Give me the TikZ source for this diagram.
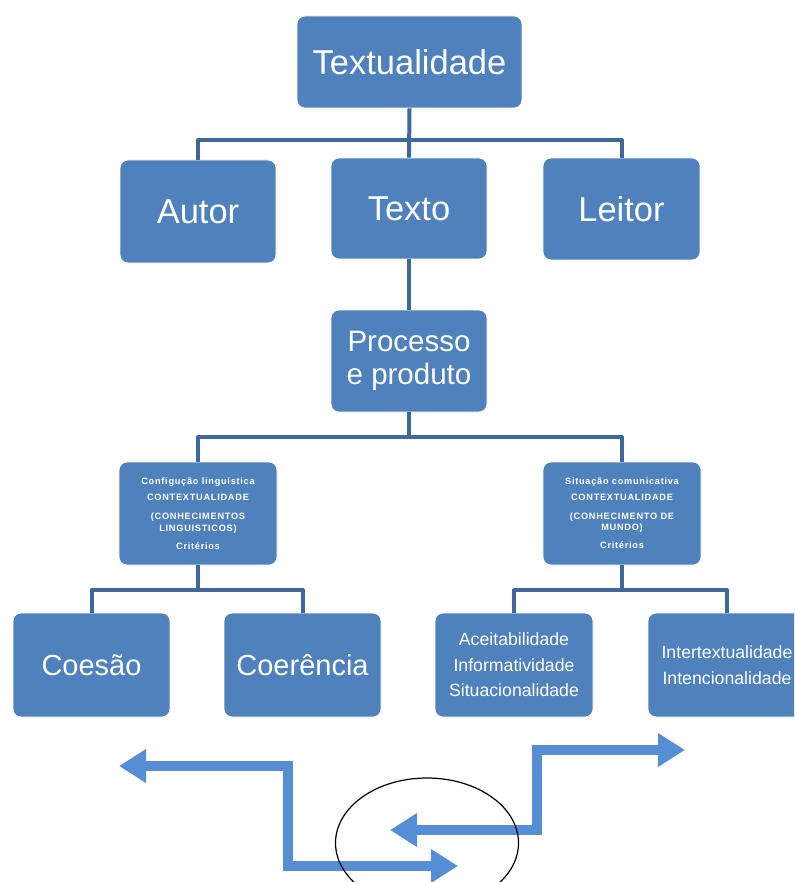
\documentclass[tikz,border=0pt]{standalone}
\usepackage{fontspec}
\setmainfont{Liberation Sans}
\usetikzlibrary{arrows.meta}
\definecolor{boxblue}{HTML}{4F81BD}
\definecolor{linkblue}{HTML}{3D6899}
\definecolor{arrowblue}{HTML}{558ED5}
\tikzset{
  box/.style={rectangle, rounded corners=8pt, fill=boxblue, draw=white, line width=0.8pt,
    text=white, align=center, inner sep=2pt},
  link/.style={draw=linkblue, line width=4pt, line join=round},
  bigarrow/.style={draw=arrowblue, line width=10pt, line join=miter,
    {Triangle[length=27pt,width=32pt]}-{Triangle[length=27pt,width=32pt]}},
  tiny/.style={font=\fontsize{9.2}{11.4}\selectfont\bfseries\addfontfeature{LetterSpace=8}}
}
\begin{document}
\begin{tikzpicture}[x=1pt,y=-1pt]
\useasboundingbox (0,0) rectangle (794,882);
\clip (0,0) rectangle (794,882);

% level 0
\node[box, minimum width=225pt, minimum height=92pt, font=\fontsize{34.5}{40}\selectfont] (text) at (409.5,62) {Textualidade};
% level 1
\node[box, minimum width=156pt, minimum height=103pt, font=\fontsize{34.5}{40}\selectfont] (autor) at (198,211.5) {Autor};
\node[box, minimum width=156pt, minimum height=101pt, font=\fontsize{34.5}{40}\selectfont] (texto) at (409,208.5) {Texto};
\node[box, minimum width=157pt, minimum height=102pt, font=\fontsize{34.5}{40}\selectfont] (leitor) at (621.5,209) {Leitor};
% level 2
\node[box, minimum width=156pt, minimum height=102pt, font=\fontsize{29.5}{33}\selectfont] (proc) at (409,361) {Processo\\e produto};
% level 3
\node[box, minimum width=158pt, minimum height=103pt, tiny] (conf) at (198,513.5)
  {Configução linguística\\[4.6pt]CONTEXTUALIDADE\\[7.6pt](CONHECIMENTOS\\LINGUISTICOS)\\[6.6pt]Critérios};
\node[box, minimum width=158pt, minimum height=103pt, tiny] (situ) at (622,513.5)
  {Situação comunicativa\\[4.6pt]CONTEXTUALIDADE\\[7.6pt](CONHECIMENTO DE\\MUNDO)\\[6.6pt]Critérios};
% level 4
\node[box, minimum width=157pt, minimum height=104pt, font=\fontsize{29}{34}\selectfont] (coes) at (91.5,665) {Coesão};
\node[box, minimum width=157pt, minimum height=104pt, font=\fontsize{29}{34}\selectfont] (coer) at (302.5,665) {Coerência};
\node[box, minimum width=158pt, minimum height=104pt, font=\fontsize{17.7}{25.5}\selectfont] (acei) at (514,665)
  {Aceitabilidade\\Informatividade\\Situacionalidade};
\node[box, minimum width=158pt, minimum height=104pt, font=\fontsize{17.7}{26}\selectfont] (inte) at (727,665)
  {Intertextualidade\\Intencionalidade};

% connectors
\coordinate (j1) at (409,140);
\coordinate (j2) at (409,437);
\coordinate (j3) at (198,590);
\coordinate (j4) at (622,590);
\draw[link] (text.south) -- (texto.north);
\draw[link] (autor.north) |- (j1) -| (leitor.north);
\draw[link] (texto.south) -- (proc.north);
\draw[link] (proc.south) -- (j2);
\draw[link] (conf.north) |- (j2) -| (situ.north);
\draw[link] (conf.south) -- (j3);
\draw[link] (coes.north) |- (j3) -| (coer.north);
\draw[link] (situ.south) -- (j4);
\draw[link] (acei.north) |- (j4) -| (inte.north);

% bottom arrows
\draw[bigarrow] (119,766) -- (288,766) -- (288,866) -- (458,866);
\draw[bigarrow] (390,830) -- (537,830) -- (537,750) -- (685,750);
\draw[black, line width=1.2pt] (427,843) ellipse [x radius=91.5, y radius=65];
\end{tikzpicture}
\end{document}
